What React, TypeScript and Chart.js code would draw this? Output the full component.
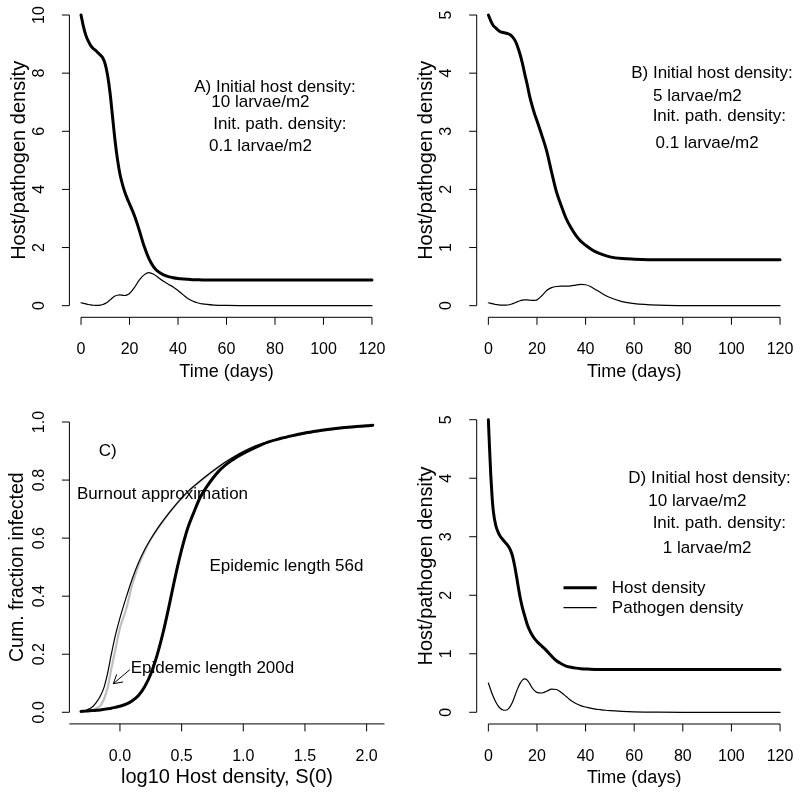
import React, { useEffect, useRef } from "react";
import { Chart, registerables } from "chart.js";
Chart.register(...registerables);

const FONT = '"Liberation Sans", Arial, Helvetica, sans-serif';

// ---------- Panel A ----------
const timeA = [0, 1, 2, 3, 4, 5, 6, 7, 8, 9, 10, 11, 12, 13, 14, 15, 16, 17, 18, 19, 20, 22, 24, 26, 28, 30, 32, 34, 36, 38, 40, 42, 44, 46, 48, 50, 55, 60, 70, 80, 100, 120];
const hostA = [10, 9.6, 9.3, 9.1, 8.95, 8.85, 8.78, 8.7, 8.62, 8.52, 8.3, 7.9, 7.3, 6.5, 5.7, 5.05, 4.55, 4.2, 3.92, 3.7, 3.5, 3.1, 2.6, 2.05, 1.62, 1.33, 1.16, 1.06, 1.0, 0.96, 0.935, 0.92, 0.905, 0.895, 0.89, 0.885, 0.88, 0.88, 0.88, 0.88, 0.88, 0.88];
const pathA = [0.1, 0.08, 0.06, 0.04, 0.025, 0.015, 0.01, 0.01, 0.02, 0.04, 0.08, 0.13, 0.2, 0.27, 0.33, 0.36, 0.37, 0.36, 0.35, 0.37, 0.42, 0.62, 0.88, 1.06, 1.14, 1.08, 0.96, 0.84, 0.74, 0.64, 0.52, 0.38, 0.25, 0.16, 0.1, 0.06, 0.02, 0.008, 0.002, 0, 0, 0];

// ---------- Panel B ----------
const timeB = [0, 1, 2, 3, 4, 5, 6, 7, 8, 9, 10, 11, 12, 13, 14, 15, 16, 17, 18, 19, 20, 22, 24, 26, 28, 30, 32, 34, 36, 38, 40, 42, 44, 46, 48, 50, 55, 60, 70, 80, 100, 120];
const hostB = [5.0, 4.9, 4.82, 4.78, 4.74, 4.71, 4.7, 4.69, 4.68, 4.66, 4.62, 4.56, 4.46, 4.33, 4.17, 3.98, 3.8, 3.6, 3.44, 3.3, 3.18, 2.93, 2.66, 2.3, 1.96, 1.72, 1.5, 1.34, 1.21, 1.11, 1.04, 0.98, 0.93, 0.895, 0.865, 0.84, 0.81, 0.8, 0.79, 0.79, 0.79, 0.79];
const pathB = [0.05, 0.04, 0.03, 0.02, 0.015, 0.01, 0.008, 0.008, 0.012, 0.02, 0.035, 0.05, 0.07, 0.085, 0.095, 0.1, 0.1, 0.095, 0.09, 0.092, 0.1, 0.17, 0.26, 0.31, 0.33, 0.335, 0.335, 0.34, 0.355, 0.365, 0.36, 0.33, 0.28, 0.23, 0.18, 0.14, 0.07, 0.035, 0.008, 0.002, 0, 0];

// ---------- Panel C ----------
const logS = [-0.316, -0.28, -0.25, -0.22, -0.19, -0.16, -0.13, -0.1, -0.07, -0.04, 0, 0.05, 0.1, 0.15, 0.2, 0.25, 0.3, 0.35, 0.4, 0.45, 0.5, 0.55, 0.6, 0.65, 0.7, 0.8, 0.9, 1.0, 1.1, 1.2, 1.3, 1.4, 1.5, 1.6, 1.7, 1.8, 1.9, 2.0, 2.05];
const burnout = [0.003, 0.006, 0.012, 0.02, 0.035, 0.055, 0.085, 0.135, 0.2, 0.26, 0.325, 0.395, 0.46, 0.515, 0.56, 0.597, 0.63, 0.66, 0.688, 0.714, 0.738, 0.76, 0.779, 0.797, 0.814, 0.846, 0.874, 0.898, 0.918, 0.932, 0.943, 0.953, 0.962, 0.969, 0.975, 0.98, 0.984, 0.987, 0.989];
const epi200 = [0.003, 0.004, 0.006, 0.009, 0.014, 0.022, 0.045, 0.085, 0.15, 0.21, 0.29, 0.355, 0.44, 0.505, 0.555, 0.596, 0.629, 0.659, 0.687, 0.713, 0.737, 0.759, 0.778, 0.796, 0.813, 0.845, 0.873, 0.897, 0.917, 0.931, 0.942, 0.952, 0.961, 0.968, 0.974, 0.979, 0.983, 0.986, 0.988];
const epi56 = [0.003, 0.004, 0.005, 0.006, 0.007, 0.008, 0.01, 0.012, 0.014, 0.017, 0.021, 0.028, 0.04, 0.058, 0.088, 0.132, 0.195, 0.275, 0.37, 0.47, 0.56, 0.635, 0.69, 0.74, 0.775, 0.83, 0.866, 0.892, 0.913, 0.931, 0.943, 0.953, 0.962, 0.969, 0.975, 0.98, 0.984, 0.987, 0.989];

// ---------- Panel D ----------
const timeD = [0, 0.5, 1, 1.5, 2, 3, 4, 5, 6, 7, 8, 9, 10, 11, 12, 13, 14, 15, 16, 17, 18, 19, 20, 22, 24, 26, 28, 30, 32, 34, 36, 38, 40, 42, 44, 46, 48, 50, 55, 60, 70, 80, 100, 120];
const hostD = [5.0, 4.5, 4.05, 3.7, 3.45, 3.2, 3.08, 3.0, 2.95, 2.9, 2.85, 2.78, 2.66, 2.46, 2.22, 1.98, 1.79, 1.64, 1.5, 1.4, 1.32, 1.26, 1.21, 1.13, 1.05, 0.96, 0.88, 0.83, 0.79, 0.77, 0.755, 0.745, 0.74, 0.735, 0.732, 0.73, 0.73, 0.73, 0.73, 0.73, 0.73, 0.73, 0.73, 0.73];
const pathD = [0.5, 0.44, 0.38, 0.32, 0.27, 0.18, 0.11, 0.065, 0.04, 0.035, 0.05, 0.1, 0.18, 0.29, 0.4, 0.49, 0.55, 0.57, 0.55, 0.49, 0.42, 0.37, 0.34, 0.33, 0.36, 0.395, 0.39, 0.34, 0.27, 0.2, 0.15, 0.115, 0.09, 0.07, 0.055, 0.045, 0.035, 0.027, 0.015, 0.008, 0.002, 0, 0, 0];

// ---------- Ticks ----------
const timeTicks = [0, 20, 40, 60, 80, 100, 120];
const timeTickLabels = ["0", "20", "40", "60", "80", "100", "120"];
const yTicksA = [0, 2, 4, 6, 8, 10];
const yTickLabelsA = ["0", "2", "4", "6", "8", "10"];
const yTicks5 = [0, 1, 2, 3, 4, 5];
const yTickLabels5 = ["0", "1", "2", "3", "4", "5"];
const xTicksC = [0, 0.5, 1, 1.5, 2];
const xTickLabelsC = ["0.0", "0.5", "1.0", "1.5", "2.0"];
const yTicksC = [0, 0.2, 0.4, 0.6, 0.8, 1.0];
const yTickLabelsC = ["0.0", "0.2", "0.4", "0.6", "0.8", "1.0"];

type Series = { xs: number[]; ys: number[]; color: string; width: number };
type Note = { text: string; x: number; y: number };
type PanelCfg = {
  left: number; top: number; w: number; h: number;
  padding: { left: number; top: number; right: number; bottom: number };
  xMin: number; xMax: number; yMin: number; yMax: number;
  xTicks: number[]; xLabels: string[]; yTicks: number[]; yLabels: string[];
  xAxisFull?: boolean;
  xTitle: string; xTitleSize: number; yTitle: string; yTitleSize: number; yTitleOff: number;
  series: Series[];
  notes: Note[];
  legend?: { x0: number; x1: number; tx: number; items: { y: number; text: string; width: number }[] };
  arrow?: { x0: number; y0: number; x1: number; y1: number };
};

const panels: PanelCfg[] = [
  {
    left: 0, top: 0, w: 400, h: 398,
    padding: { left: 69.4, top: 3.4, right: 16.4, bottom: 80.7 },
    xMin: -4.8, xMax: 124.8, yMin: -0.4, yMax: 10.4,
    xTicks: timeTicks, xLabels: timeTickLabels, yTicks: yTicksA, yLabels: yTickLabelsA,
    xTitle: "Time (days)", xTitleSize: 18, yTitle: "Host/pathogen density", yTitleSize: 20, yTitleOff: 44.5,
    series: [
      { xs: timeA, ys: hostA, color: "#000", width: 3 },
      { xs: timeA, ys: pathA, color: "#000", width: 1.2 },
    ],
    notes: [
      { text: "A) Initial host density:", x: 80, y: 7.5 },
      { text: "10 larvae/m2", x: 74, y: 7.0 },
      { text: "Init. path. density:", x: 82, y: 6.25 },
      { text: "0.1 larvae/m2", x: 74, y: 5.5 },
    ],
  },
  {
    left: 400, top: 0, w: 400, h: 398,
    padding: { left: 76.7, top: 3.4, right: 8.3, bottom: 80.7 },
    xMin: -4.8, xMax: 124.8, yMin: -0.2, yMax: 5.2,
    xTicks: timeTicks, xLabels: timeTickLabels, yTicks: yTicks5, yLabels: yTickLabels5,
    xTitle: "Time (days)", xTitleSize: 18, yTitle: "Host/pathogen density", yTitleSize: 20, yTitleOff: 44.5,
    series: [
      { xs: timeB, ys: hostB, color: "#000", width: 3 },
      { xs: timeB, ys: pathB, color: "#000", width: 1.2 },
    ],
    notes: [
      { text: "B) Initial host density:", x: 92, y: 4.0 },
      { text: "5 larvae/m2", x: 86, y: 3.6 },
      { text: "Init. path. density:", x: 95, y: 3.25 },
      { text: "0.1 larvae/m2", x: 90, y: 2.8 },
    ],
  },
  {
    left: 0, top: 398, w: 400, h: 398,
    padding: { left: 69.4, top: 12.4, right: 15.5, bottom: 72.1 },
    xMin: -0.41, xMax: 2.145, yMin: -0.04, yMax: 1.04,
    xTicks: xTicksC, xLabels: xTickLabelsC, yTicks: yTicksC, yLabels: yTickLabelsC,
    xAxisFull: true,
    xTitle: "log10 Host density, S(0)", xTitleSize: 20, yTitle: "Cum. fraction infected", yTitleSize: 19.5, yTitleOff: 46.5,
    series: [
      { xs: logS, ys: epi56, color: "#000", width: 3 },
      { xs: logS, ys: burnout, color: "#000", width: 1.2 },
      { xs: logS, ys: epi200, color: "#bebebe", width: 2.2 },
    ],
    notes: [
      { text: "C)", x: -0.1, y: 0.9 },
      { text: "Burnout approximation", x: 0.345, y: 0.752 },
      { text: "Epidemic length 56d", x: 1.35, y: 0.503 },
      { text: "Epidemic length 200d", x: 0.75, y: 0.153 },
    ],
    arrow: { x0: 0.081, y0: 0.147, x1: -0.054, y1: 0.0985 },
  },
  {
    left: 400, top: 398, w: 400, h: 398,
    padding: { left: 76.7, top: 10, right: 8.3, bottom: 72 },
    xMin: -4.8, xMax: 124.8, yMin: -0.2, yMax: 5.2,
    xTicks: timeTicks, xLabels: timeTickLabels, yTicks: yTicks5, yLabels: yTickLabels5,
    xTitle: "Time (days)", xTitleSize: 18, yTitle: "Host/pathogen density", yTitleSize: 20, yTitleOff: 44.5,
    series: [
      { xs: timeD, ys: hostD, color: "#000", width: 3 },
      { xs: timeD, ys: pathD, color: "#000", width: 1.2 },
    ],
    notes: [
      { text: "D) Initial host density:", x: 91, y: 4.0 },
      { text: "10 larvae/m2", x: 86, y: 3.6 },
      { text: "Init. path. density:", x: 95, y: 3.23 },
      { text: "1 larvae/m2", x: 90, y: 2.8 },
    ],
    legend: {
      x0: 30.9, x1: 44.6, tx: 50.8,
      items: [
        { y: 2.13, text: "Host density", width: 3 },
        { y: 1.79, text: "Pathogen density", width: 1.2 },
      ],
    },
  },
];

function Panel({ cfg }: { cfg: PanelCfg }) {
  const ref = useRef<HTMLCanvasElement>(null);
  useEffect(() => {
    const canvas = ref.current!;
    const rAxes = {
      id: "rAxes",
      afterDraw(chart: any) {
        const ctx: CanvasRenderingContext2D = chart.ctx;
        const xs = chart.scales.x;
        const ys = chart.scales.y;
        const ca = chart.chartArea;
        ctx.save();
        ctx.strokeStyle = "#000";
        ctx.fillStyle = "#000";
        ctx.lineWidth = 1;
        const line = (a: number, b: number, c: number, d: number) => {
          ctx.beginPath();
          ctx.moveTo(a, b);
          ctx.lineTo(c, d);
          ctx.stroke();
        };
        // x axis
        const bottom = ca.bottom;
        const xa0 = cfg.xAxisFull ? ca.left : xs.getPixelForValue(cfg.xTicks[0]);
        const xa1 = cfg.xAxisFull ? ca.right : xs.getPixelForValue(cfg.xTicks[cfg.xTicks.length - 1]);
        line(xa0, bottom, xa1, bottom);
        ctx.font = `16px ${FONT}`;
        ctx.textAlign = "center";
        ctx.textBaseline = "middle";
        cfg.xTicks.forEach((t, i) => {
          const px = xs.getPixelForValue(t);
          line(px, bottom, px, bottom + 7.5);
          ctx.fillText(cfg.xLabels[i], px, bottom + 32.5);
        });
        // y axis
        const left = ca.left;
        const ya0 = ys.getPixelForValue(cfg.yTicks[0]);
        const ya1 = ys.getPixelForValue(cfg.yTicks[cfg.yTicks.length - 1]);
        line(left, ya0, left, ya1);
        cfg.yTicks.forEach((t, i) => {
          const py = ys.getPixelForValue(t);
          line(left - 7.5, py, left, py);
          ctx.save();
          ctx.translate(left - 30, py);
          ctx.rotate(-Math.PI / 2);
          ctx.fillText(cfg.yLabels[i], 0, 0);
          ctx.restore();
        });
        // titles
        ctx.textBaseline = "alphabetic";
        ctx.font = `${cfg.xTitleSize}px ${FONT}`;
        ctx.fillText(cfg.xTitle, (ca.left + ca.right) / 2, bottom + 59.4);
        ctx.save();
        ctx.translate(left - cfg.yTitleOff, (ca.top + ca.bottom) / 2);
        ctx.rotate(-Math.PI / 2);
        ctx.font = `${cfg.yTitleSize}px ${FONT}`;
        ctx.fillText(cfg.yTitle, 0, 0);
        ctx.restore();
        // notes
        ctx.font = `17px ${FONT}`;
        ctx.textBaseline = "middle";
        ctx.textAlign = "center";
        cfg.notes.forEach((n) => {
          ctx.fillText(n.text, xs.getPixelForValue(n.x), ys.getPixelForValue(n.y));
        });
        // legend
        if (cfg.legend) {
          const lg = cfg.legend;
          ctx.textAlign = "left";
          lg.items.forEach((it) => {
            const py = ys.getPixelForValue(it.y);
            ctx.lineWidth = it.width;
            line(xs.getPixelForValue(lg.x0), py, xs.getPixelForValue(lg.x1), py);
            ctx.fillText(it.text, xs.getPixelForValue(lg.tx), py + 1);
          });
        }
        // arrow
        if (cfg.arrow) {
          const a = cfg.arrow;
          const x0 = xs.getPixelForValue(a.x0), y0 = ys.getPixelForValue(a.y0);
          const x1 = xs.getPixelForValue(a.x1), y1 = ys.getPixelForValue(a.y1);
          ctx.lineWidth = 1;
          line(x0, y0, x1, y1);
          const ang = Math.atan2(y1 - y0, x1 - x0);
          const L = 10;
          [Math.PI / 6, -Math.PI / 6].forEach((d) => {
            line(x1, y1, x1 - L * Math.cos(ang + d), y1 - L * Math.sin(ang + d));
          });
        }
        ctx.restore();
      },
    };
    const chart = new Chart(canvas, {
      type: "line",
      data: {
        datasets: cfg.series.map((s) => ({
          data: s.xs.map((x, i) => ({ x, y: s.ys[i] })),
          borderColor: s.color,
          borderWidth: s.width,
          pointRadius: 0,
          fill: false,
          cubicInterpolationMode: "monotone" as const,
          borderJoinStyle: "round" as const,
          borderCapStyle: "round" as const,
        })),
      },
      options: {
        animation: false,
        responsive: false,
        devicePixelRatio: 1,
        events: [],
        layout: { padding: cfg.padding },
        scales: {
          x: { type: "linear", min: cfg.xMin, max: cfg.xMax, display: false },
          y: { type: "linear", min: cfg.yMin, max: cfg.yMax, display: false },
        },
        plugins: { legend: { display: false }, tooltip: { enabled: false } },
      },
      plugins: [rAxes],
    } as any);
    return () => chart.destroy();
  }, [cfg]);
  return (
    <canvas
      ref={ref}
      width={cfg.w}
      height={cfg.h}
      style={{ position: "absolute", left: cfg.left, top: cfg.top, width: cfg.w, height: cfg.h }}
    />
  );
}

export default function App() {
  return (
    <div style={{ position: "absolute", left: 0, top: 0, width: 800, height: 796, background: "#fff", overflow: "hidden" }}>
      {panels.map((p, i) => (
        <Panel key={i} cfg={p} />
      ))}
    </div>
  );
}
